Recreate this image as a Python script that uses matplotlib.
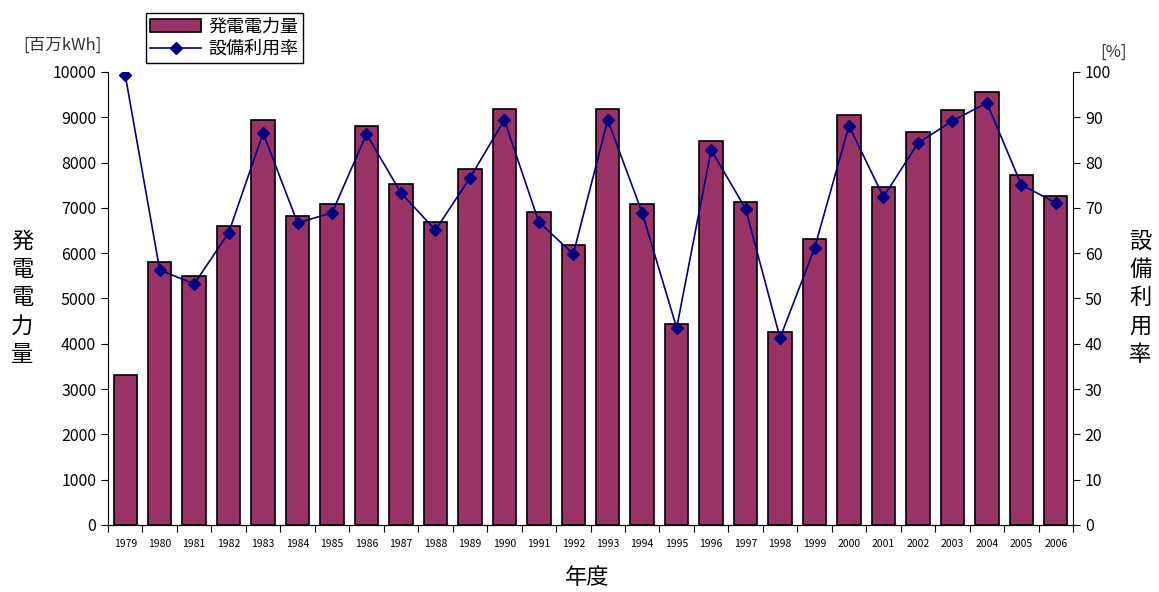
import numpy as np
import matplotlib
matplotlib.use("Agg")
import matplotlib.pyplot as plt
from matplotlib.lines import Line2D
from matplotlib.patches import Patch

plt.rcParams['font.family'] = ['Noto Sans CJK JP', 'DejaVu Sans']

years = [str(y) for y in range(1979, 2007)]
generation = [3300, 5800, 5500, 6600, 8930, 6830, 7080, 8810, 7520, 6680,
              7850, 9190, 6900, 6170, 9190, 7080, 4440, 8480, 7120, 4260,
              6310, 9040, 7460, 8670, 9150, 9560, 7720, 7270]
utilization = [99.3, 56.3, 53.2, 64.5, 86.5, 66.7, 68.9, 86.3, 73.3, 65.1,
               76.6, 89.4, 66.9, 59.8, 89.4, 68.9, 43.5, 82.8, 69.8, 41.3,
               61.1, 88.1, 72.4, 84.3, 89.2, 93.2, 75.1, 71.1]

bar_color = '#993366'
line_color = '#000080'

fig = plt.figure(figsize=(11.59, 5.92), dpi=100)
ax = fig.add_axes([0.0932, 0.1132, 0.8326, 0.7652])
x = np.arange(len(years))

ax.bar(x, generation, width=0.68, color=bar_color, edgecolor='black', linewidth=1.2, zorder=2)
ax.set_xlim(-0.5, len(years) - 0.5)
ax.set_ylim(0, 10000)
ax.set_yticks(range(0, 10001, 1000))
ax.tick_params(axis='y', labelsize=11.5, length=5, direction='out')
ax.spines['top'].set_visible(False)
ax.spines['right'].set_visible(False)

# category boundary ticks on x, labels at centres
ax.set_xticks(np.arange(-0.5, len(years), 1.0))
ax.set_xticklabels([])
ax.set_xticks(x, minor=True)
ax.set_xticklabels(years, minor=True, fontsize=7.5)
ax.tick_params(axis='x', which='major', length=5, direction='out')
ax.tick_params(axis='x', which='minor', length=0, pad=10)

ax2 = ax.twinx()
ax2.plot(x, utilization, color=line_color, marker='D', markersize=6, linewidth=1.2, zorder=3)
ax2.set_ylim(0, 100)
ax2.set_yticks(range(0, 101, 10))
ax2.tick_params(axis='y', labelsize=11.5, length=5, direction='out')
ax2.spines['top'].set_visible(False)
ax2.spines['left'].set_visible(False)

fig.text(0.019, 0.497, '発\n電\n電\n力\n量', fontsize=16, ha='center', va='center', linespacing=1.3)
fig.text(0.984, 0.497, '設\n備\n利\n用\n率', fontsize=16, ha='center', va='center', linespacing=1.3)
fig.text(0.507, 0.025, '年度', fontsize=16, ha='center', va='center')
fig.text(0.054, 0.924, '[百万kWh]', fontsize=12, ha='center', va='center', color='#333333')
fig.text(0.961, 0.912, '[%]', fontsize=12, ha='center', va='center', color='#333333')

handles = [Patch(facecolor=bar_color, edgecolor='black', linewidth=1.2),
           Line2D([], [], color=line_color, marker='D', markersize=6, linewidth=1.2)]
fig.legend(handles, ['発電電力量', '設備利用率'], loc='upper left',
           bbox_to_anchor=(0.118, 0.993), fontsize=13, frameon=True, fancybox=False,
           edgecolor='black', framealpha=1, handlelength=2.8, borderpad=0.25,
           labelspacing=0.25, handletextpad=0.4)

fig.savefig('out.png', dpi=100)
